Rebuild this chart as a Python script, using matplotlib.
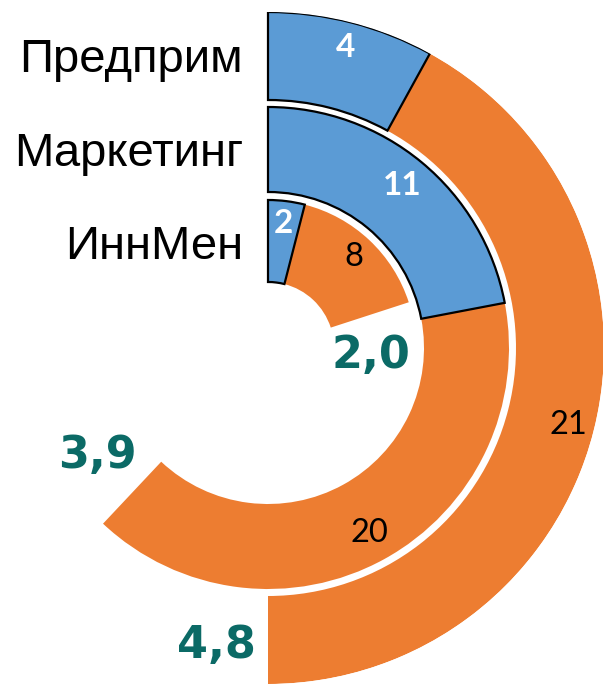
import numpy as np
import matplotlib
matplotlib.use("Agg")
import matplotlib.pyplot as plt

# ---- data ----
categories = ["Предприм", "Маркетинг", "ИннМен"]   # outer -> inner ring
blue_vals = [4, 11, 2]
orange_vals = [21, 20, 8]
avg_vals = [4.8, 3.9, 2.0]

# ---- layout / style ----
W, H = 603, 684
BLUE = "#5B9BD5"
ORANGE = "#ED7D31"
TEAL = "#0B6A66"
FULL_SCALE = 25.0                       # units that span 180 degrees
ring_inner = [248, 156, 66]             # px
ring_outer = [336, 241, 148]            # px
label_r = [310, 211, 125]               # px radius for value labels
cx, cy = 268, 348                       # centre in pixel coords (from top)
R = 336

fig = plt.figure(figsize=(W / 100, H / 100), dpi=100)
fig.patch.set_facecolor("white")

ax = fig.add_axes([(cx - R) / W, (H - cy - R) / H, 2 * R / W, 2 * R / H],
                  projection="polar")
ax.set_theta_zero_location("N")
ax.set_theta_direction(-1)
ax.set_ylim(0, R)
ax.axis("off")

unit = np.pi / FULL_SCALE
for i in range(len(categories)):
    b, o = blue_vals[i], orange_vals[i]
    ri, ro = ring_inner[i], ring_outer[i]
    # orange segment
    ax.bar(b * unit, ro - ri, width=o * unit, bottom=ri, align="edge",
           color=ORANGE, edgecolor="none", zorder=1)
    # blue segment with outline
    ax.bar(0, ro - ri, width=b * unit, bottom=ri, align="edge",
           color=BLUE, edgecolor="black", linewidth=1.6, zorder=2)
    # value labels
    ax.text(b * unit / 2, label_r[i], str(b), ha="center", va="center",
            fontsize=24, fontweight="bold", color="white",
            family="Lato", zorder=5)
    ax.text((b + o / 2) * unit, label_r[i], str(o), ha="center", va="center",
            fontsize=23.5, color="black", family="Lato", zorder=5)

# overlay for text in pixel coordinates
ov = fig.add_axes([0, 0, 1, 1])
ov.set_xlim(0, W)
ov.set_ylim(H, 0)
ov.axis("off")
ov.patch.set_alpha(0)

cat_baselines = [72, 166, 259]
for name, yb in zip(categories, cat_baselines):
    ov.text(243, yb, name, ha="right", va="baseline", fontsize=34,
            family="Liberation Sans", color="black")

avg_pos = [(216, 658), (97.5, 468), (371, 368)]
for v, (x, yb) in zip(avg_vals, avg_pos):
    ov.text(x, yb, f"{v:.1f}".replace(".", ","), ha="center", va="baseline",
            fontsize=32, fontweight="bold", color=TEAL, family="DejaVu Sans")

fig.savefig("out.png", dpi=100, facecolor="white")
